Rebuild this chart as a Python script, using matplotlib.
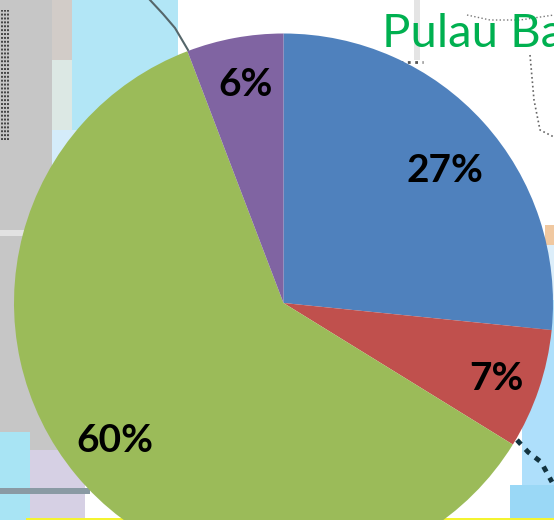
import matplotlib
matplotlib.use("Agg")
import matplotlib.pyplot as plt
from matplotlib.patches import Rectangle

values = [26.6, 7.2, 60.4, 5.8]
colors = ["#4F81BD", "#C0504D", "#9BBB59", "#8064A2"]
pct_labels = ["27%", "7%", "60%", "6%"]
title = "Pulau Ba"

W, H = 554, 520


def Y(py):
    # picture pixels run downwards, the axes upwards
    return H - py


fig = plt.figure(figsize=(5.54, 5.2), dpi=100)
ax = fig.add_axes([0, 0, 1, 1])

# map fragments behind the pie
def box(x0, y0, x1, y1, c):
    ax.add_patch(Rectangle((x0, Y(y1)), x1 - x0, y1 - y0, color=c, lw=0, zorder=1))


box(0, 0, 554, 520, "white")
box(0, 0, 85, 520, "#C6C6C6")
box(52, 0, 72, 60, "#D2CCC8")
box(52, 60, 72, 130, "#DCE8E4")
box(72, 0, 178, 170, "#B2E6F6")
box(52, 130, 110, 170, "#D4ECFA")
box(0, 230, 24, 236, "#E2E2E2")
box(0, 432, 30, 520, "#A8E4F4")
box(30, 450, 85, 520, "#D6D0E4")
box(0, 488, 90, 494, "#8A9AA4")
box(522, 300, 554, 520, "#AEDFFB")
box(510, 485, 554, 520, "#9AD8F6")
box(545, 225, 554, 245, "#F0C8A0")
box(545, 245, 554, 300, "#DCEEFA")
box(26, 518, 554, 520, "#F4F430")
box(414, 0, 420, 60, "#E4E4E4")

ax.vlines([2, 5, 8], Y(140), Y(10), color="#444444", lw=1.4, linestyles=(0, (1, 1)), zorder=2)
ax.plot([150, 163, 175, 188], [Y(0), Y(14), Y(28), Y(50)], color="#55666A", lw=1.5, zorder=2)
ax.plot([467, 490, 520, 554], [Y(15), Y(20), Y(20), Y(15)], color="#777777", lw=1, ls=":", zorder=2)
ax.plot([530, 534, 540, 554], [Y(55), Y(100), Y(130), Y(137)], color="#666666", lw=1.2, ls=":", zorder=2)
ax.plot([400, 423], [Y(62), Y(62)], color="#555555", lw=2, ls=":", zorder=2)
ax.plot([517, 528, 541, 552], [Y(440), Y(452), Y(462), Y(482)], color="#12333F", lw=3.5, ls=(0, (1.2, 1.4)), zorder=2)

wedges, _ = ax.pie(values, colors=colors, startangle=90, counterclock=False,
                   center=(283.5, Y(303)), radius=269.5, frame=True,
                   wedgeprops={"linewidth": 0, "zorder": 3})

label_px = [(445, 170), (496, 378), (115, 441), (246, 85)]
for lab, (px, py) in zip(pct_labels, label_px):
    ax.text(px, Y(py), lab, fontsize=28, fontweight="bold", family="Lato",
            ha="center", va="center", zorder=4)
ax.text(382, Y(47), title, fontsize=34, color="#00B050", family="Lato", ha="left", va="baseline", zorder=4)

ax.set_xlim(0, W)
ax.set_ylim(0, H)
ax.axis("off")
fig.savefig("out.png", dpi=100)
